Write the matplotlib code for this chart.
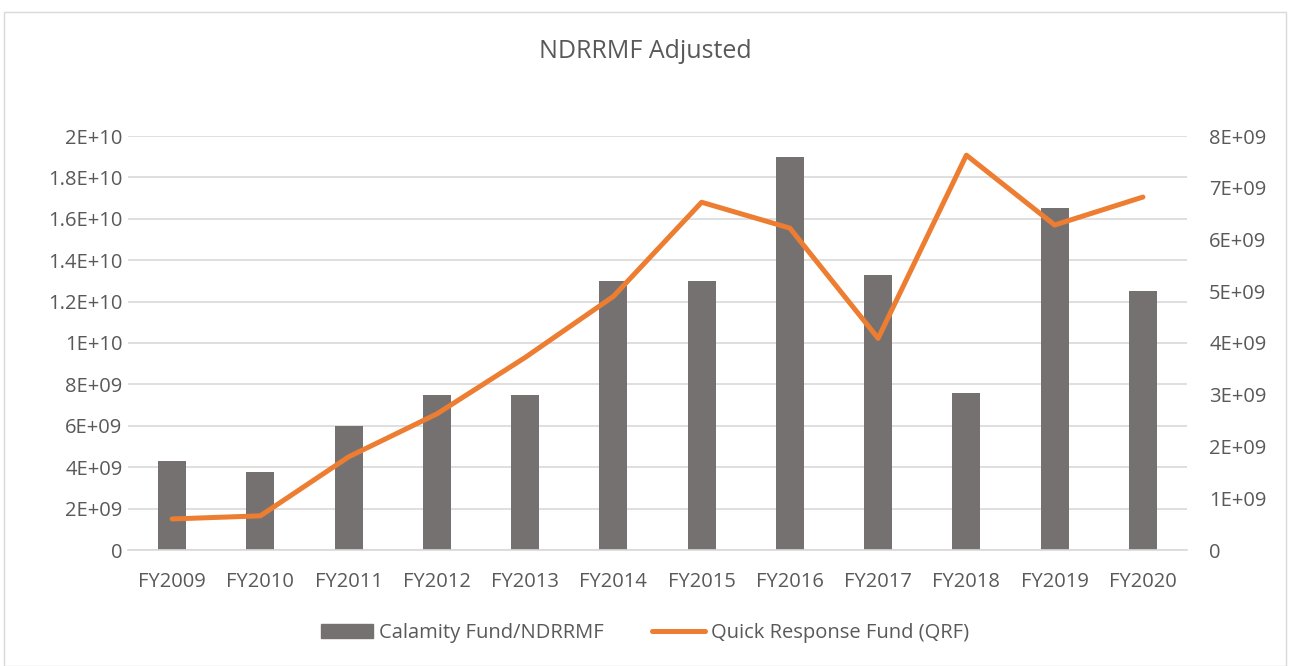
import matplotlib
matplotlib.use("Agg")
import matplotlib.pyplot as plt
from matplotlib.patches import Rectangle
from matplotlib.lines import Line2D
import numpy as np

categories = ["FY2009", "FY2010", "FY2011", "FY2012", "FY2013", "FY2014",
              "FY2015", "FY2016", "FY2017", "FY2018", "FY2019", "FY2020"]
calamity_fund = [4.3e9, 3.75e9, 6.0e9, 7.5e9, 7.5e9, 13.0e9,
                 13.0e9, 19.0e9, 13.27e9, 7.6e9, 16.5e9, 12.5e9]
qrf = [0.6e9, 0.66e9, 1.8e9, 2.63e9, 3.72e9, 4.9e9,
       6.72e9, 6.22e9, 4.09e9, 7.63e9, 6.28e9, 6.82e9]
left_ticks = [0, 2e9, 4e9, 6e9, 8e9, 1e10, 1.2e10, 1.4e10, 1.6e10, 1.8e10, 2e10]
left_labels = ["0", "2E+09", "4E+09", "6E+09", "8E+09", "1E+10",
               "1.2E+10", "1.4E+10", "1.6E+10", "1.8E+10", "2E+10"]
right_ticks = [0, 1e9, 2e9, 3e9, 4e9, 5e9, 6e9, 7e9, 8e9]
right_labels = ["0", "1E+09", "2E+09", "3E+09", "4E+09", "5E+09",
                "6E+09", "7E+09", "8E+09"]

BAR = "#767171"
LINE = "#ED7D31"
TXT = "#595959"
GRID = "#D9D9D9"
FONT = "Open Sans"

plt.rcParams["font.family"] = [FONT, "DejaVu Sans"]

fig = plt.figure(figsize=(12.9, 6.66), dpi=100)
fig.patches.append(Rectangle((4/1290, 0), 1282/1290, 1 - 12/666, transform=fig.transFigure,
                             fill=False, edgecolor="#D9D9D9", linewidth=1.0))

ax = fig.add_axes([128/1290, 1 - 550/666, (1187-128)/1290, (550-136)/666])
x = np.arange(len(categories))
ax.bar(x, calamity_fund, width=0.32, color=BAR, zorder=2)
ax.set_xlim(-0.5, len(categories) - 0.5)
ax.set_ylim(0, 2e10)
ax.set_yticks(left_ticks)
ax.set_yticklabels(left_labels)
ax.set_xticks(x)
ax.set_xticklabels(categories)
ax.grid(axis="y", color=GRID, linewidth=1.2, zorder=0)
ax.set_axisbelow(True)
for s in ["top", "right", "left"]:
    ax.spines[s].set_visible(False)
ax.spines["bottom"].set_color(GRID)
ax.spines["bottom"].set_linewidth(1.2)
ax.tick_params(axis="both", length=0, colors=TXT, labelsize=14.5)
ax.tick_params(axis="y", pad=4)
ax.tick_params(axis="x", pad=16)

ax2 = ax.twinx()
ax2.plot(x, qrf, color=LINE, linewidth=3.6, solid_capstyle="round", solid_joinstyle="round", zorder=3)
ax2.set_ylim(0, 8e9)
ax2.set_yticks(right_ticks)
ax2.set_yticklabels(right_labels)
for s in ["top", "right", "left", "bottom"]:
    ax2.spines[s].set_visible(False)
ax2.tick_params(axis="y", length=0, colors=TXT, labelsize=14.5, pad=16)

fig.text(0.5, 1 - 51/666, "NDRRMF Adjusted", ha="center", va="center",
         fontsize=18, color=TXT)

handles = [Rectangle((0, 0), 1, 1, color=BAR),
           Line2D([0], [0], color=LINE, linewidth=3.6, solid_capstyle="round")]
fig.legend(handles, ["Calamity Fund/NDRRMF", "Quick Response Fund (QRF)"],
           loc="center", bbox_to_anchor=(0.5, 1 - 633/666), ncol=2, frameon=False,
           fontsize=14.5, labelcolor=TXT, handlelength=2.6, handletextpad=0.3,
           columnspacing=2.4)

fig.savefig("out.png", dpi=100)
